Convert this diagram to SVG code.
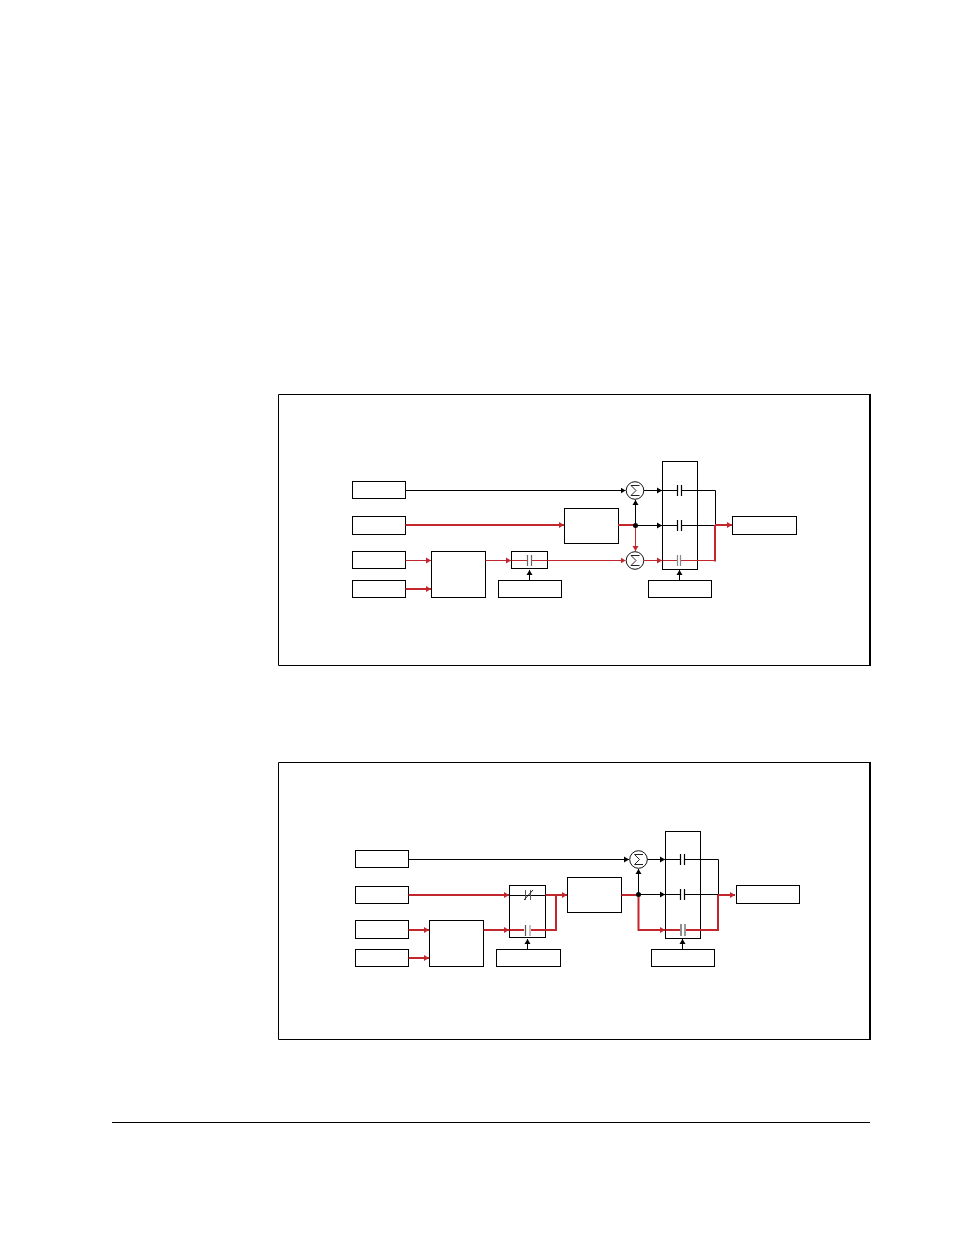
<svg xmlns="http://www.w3.org/2000/svg" width="954" height="1235" viewBox="0 0 954 1235">
<style>
rect{fill:#fff;stroke:#000;stroke-width:1}
path{fill:none}
.k{stroke:#000;stroke-width:1}
.r{stroke:#c1272d;stroke-width:1}
.R{stroke:#c1272d;stroke-width:2}
.o{stroke:#000;stroke-width:1.2;fill:none}
.s{stroke:#222;stroke-width:1;fill:none}
circle.c{fill:#fff;stroke:#111;stroke-width:1}
</style>
<defs>
<marker id="ak" markerUnits="userSpaceOnUse" markerWidth="6" markerHeight="7" refX="5" refY="3.5" orient="auto"><polygon points="0,0.5 5,3.5 0,6.5" fill="#000"/></marker>
<marker id="ar" markerUnits="userSpaceOnUse" markerWidth="6" markerHeight="7" refX="5" refY="3.5" orient="auto"><polygon points="0,0.5 5,3.5 0,6.5" fill="#c1272d"/></marker>
<g id="sig"><circle class="c" r="8.8"/><path class="s" d="M4.5,-5 H-4 L1,0 L-4,5 H4.5"/></g>
</defs>
<g id="frame1"><path d="M278.5,394.5 H870 M278.5,394.5 V665.5 H870" class="k"/><path d="M870,394 V666" stroke="#000" stroke-width="2"/></g>
<g id="frame2"><path d="M278.5,762.5 H870 M278.5,762.5 V1039.5 H870" class="k"/><path d="M870,762 V1040" stroke="#000" stroke-width="2"/></g>
<path id="rule" d="M112,1122.5 H870" class="k"/>

<g id="n1a"><rect x="352.5" y="481.5" width="53" height="17"/></g>
<g id="n1b"><rect x="352.5" y="516.5" width="53" height="18"/></g>
<g id="n1c"><rect x="352.5" y="551.5" width="53" height="17"/></g>
<g id="n1d"><rect x="352.5" y="580.5" width="53" height="17"/></g>
<g id="n1e"><rect x="431.5" y="551.5" width="54" height="46"/></g>
<g id="n1f"><rect x="511.5" y="551.5" width="36" height="17"/></g>
<g id="n1g"><rect x="498.5" y="580.5" width="63" height="17"/></g>
<g id="n1h"><rect x="564.5" y="508.5" width="54" height="35"/></g>
<g id="n1i"><rect x="662.5" y="461.5" width="35" height="108"/></g>
<g id="n1j"><rect x="648.5" y="580.5" width="63" height="17"/></g>
<g id="n1k"><rect x="732.5" y="516.5" width="64" height="18"/></g>
<g id="n1s1"><use href="#sig" x="635" y="490.5"/></g>
<g id="n1s2"><use href="#sig" x="635" y="560.5"/></g>

<g id="n2a"><rect x="355.5" y="850.5" width="53" height="17"/></g>
<g id="n2b"><rect x="355.5" y="886.5" width="53" height="17"/></g>
<g id="n2c"><rect x="355.5" y="920.5" width="53" height="18"/></g>
<g id="n2d"><rect x="355.5" y="949.5" width="53" height="17"/></g>
<g id="n2e"><rect x="429.5" y="920.5" width="54" height="46"/></g>
<g id="n2f"><rect x="509.5" y="885.5" width="36" height="52"/></g>
<g id="n2g"><rect x="496.5" y="949.5" width="64" height="17"/></g>
<g id="n2h"><rect x="567.5" y="877.5" width="54" height="35"/></g>
<g id="n2i"><rect x="665.5" y="831.5" width="35" height="107"/></g>
<g id="n2j"><rect x="651.5" y="949.5" width="63" height="17"/></g>
<g id="n2k"><rect x="736.5" y="885.5" width="63" height="18"/></g>
<g id="n2s1"><use href="#sig" x="638.5" y="859.5"/></g>

<g id="connectors1">
<path class="k" d="M405.5,490.5 H625.5" marker-end="url(#ak)"/>
<path class="R" d="M405.5,525 H564" marker-end="url(#ar)"/>
<path class="r" d="M405.5,560.5 H431" marker-end="url(#ar)"/>
<path class="R" d="M405.5,589 H431" marker-end="url(#ar)"/>
<path class="r" d="M485.5,560.5 H511" marker-end="url(#ar)"/>
<path class="r" d="M547.5,560.5 H625.5" marker-end="url(#ar)"/>
<path class="r" d="M511.5,560.5 H527 M532,560.5 H547.5"/>
<path class="k" d="M529.5,580.5 V570" marker-end="url(#ak)"/>
<path class="k" d="M679.5,580.5 V570" marker-end="url(#ak)"/>
<path class="R" d="M618,525 H635.5"/>
<path class="k" d="M635.5,525.5 V500" marker-end="url(#ak)"/>
<path class="r" d="M635.5,525.5 V551" marker-end="url(#ar)"/>
<path class="k" d="M635.5,525.5 H662" marker-end="url(#ak)"/>
<path class="k" d="M643.8,490.5 H662" marker-end="url(#ak)"/>
<path class="r" d="M643.8,560.5 H662" marker-end="url(#ar)"/>
<path class="k" d="M662.5,490.5 H677 M682,490.5 H715.5 V525.5 M662.5,525.5 H677 M682,525.5 H715"/>
<path class="r" d="M662.5,560.5 H677 M681,560.5 H714"/>
<path class="R" d="M714,560.5 H715 V525 M715,525 H732" marker-end="url(#ar)"/>
<path class="o" d="M677.5,485 V496 M681.5,485 V496 M677.5,520 V531 M681.5,520 V531"/>
<path stroke="#888" stroke-width="1.2" d="M677.5,555 V566 M680.5,555 V566"/>
<path stroke="#666" stroke-width="1.2" d="M527.5,555 V566 M531.5,555 V566"/>
<circle cx="635.5" cy="525.5" r="2.5" fill="#000"/>
</g>

<g id="connectors2">
<path class="k" d="M408.5,859.5 H629" marker-end="url(#ak)"/>
<path class="R" d="M408.5,895 H509" marker-end="url(#ar)"/>
<path class="R" d="M408.5,930 H429" marker-end="url(#ar)"/>
<path class="R" d="M408.5,958 H429" marker-end="url(#ar)"/>
<path class="R" d="M483.5,930 H509" marker-end="url(#ar)"/>
<path class="k" d="M509.5,895.5 H545.5"/>
<path class="R" d="M509.5,930 H524 M531,930 H556 V895 M545.5,895 H567" marker-end="url(#ar)"/>
<path class="k" d="M527.5,949.5 V939" marker-end="url(#ak)"/>
<path class="k" d="M682.5,949.5 V939" marker-end="url(#ak)"/>
<path class="R" d="M621.5,895 H639 M638.5,895 V930 H665" marker-end="url(#ar)"/>
<path class="k" d="M638.5,894.5 V869" marker-end="url(#ak)"/>
<path class="k" d="M638.5,894.5 H665" marker-end="url(#ak)"/>
<path class="k" d="M647.3,859.5 H665" marker-end="url(#ak)"/>
<path class="k" d="M665.5,859.5 H680 M685,859.5 H718.5 V895 M665.5,894.5 H680 M685,894.5 H718"/>
<path class="R" d="M665.5,930 H680 M686,930 H718 V895 M718,895 H735" marker-end="url(#ar)"/>
<path class="o" d="M680.5,854 V865 M684.5,854 V865 M680.5,889 V900 M684.5,889 V900"/>
<path stroke="#444" stroke-width="1.2" d="M681,924 V936"/><path stroke="#999" stroke-width="2" d="M685,924 V936"/>
<path stroke="#555" stroke-width="1" d="M525.5,890 V900 M530.5,890 V900"/><path stroke="#222" stroke-width="1" d="M524,900 L533,890"/>
<path stroke="#555" stroke-width="1.2" d="M525.5,925 V936"/><path stroke="#999" stroke-width="1.2" d="M530,925 V936"/>
<circle cx="638.5" cy="894.5" r="2.5" fill="#000"/>
</g>
</svg>
